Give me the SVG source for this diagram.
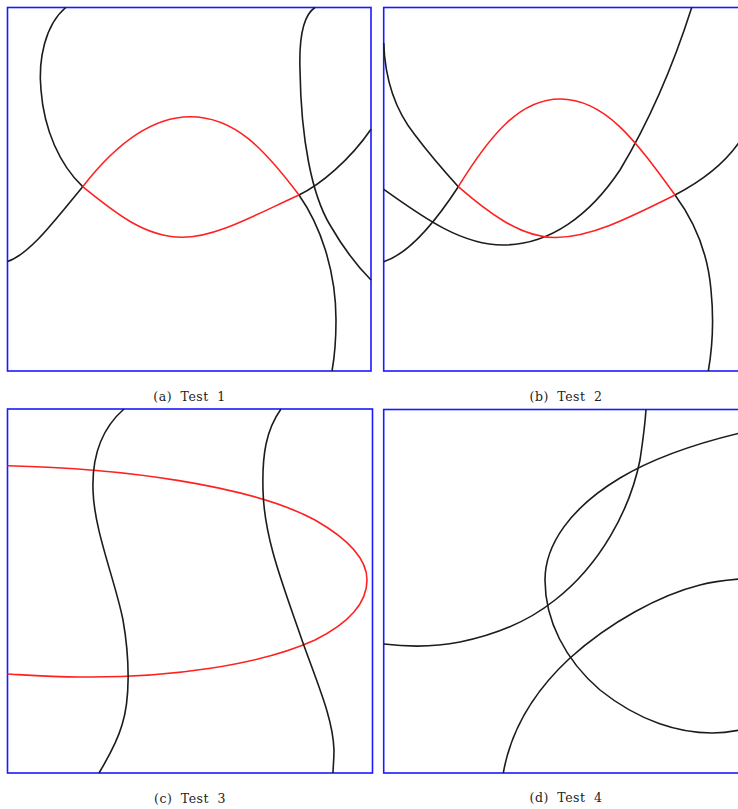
<svg xmlns="http://www.w3.org/2000/svg" width="738" height="809" viewBox="0 0 738 809">
<style>
.frame{fill:none;stroke:#1a1aff;stroke-width:1.6}
.k{fill:none;stroke:#1c1c1c;stroke-width:1.6}
.r{fill:none;stroke:#ff2020;stroke-width:1.6}
.cap{font-family:"DejaVu Serif","Liberation Serif",serif;font-size:12.5px;fill:#222;text-anchor:middle;word-spacing:4px;letter-spacing:0.5px}
</style>
<rect width="738" height="809" fill="#fff"/>
<g id="panel-a">
<rect class="frame" x="7.5" y="7.5" width="363.5" height="363.5"/>
<path class="k" d="M65.7,7.5 C45,25 38,60 41,90 C44,130 60,165 82.7,186.7"/>
<path class="k" d="M299,195 C320,225 336,270 336,320 C336,345 334,360 332,371"/>
<path class="k" d="M7.5,261.5 C30,254 55,220 82.7,186.7"/>
<path class="k" d="M299,195 C320,185 350,160 371,129.3"/>
<path class="k" d="M315,7.5 C302,16 299,40 300,70 C301,140 312,195 330,225 C341,244 357,266 371,280"/>
<path class="r" d="M82.7,186.7 C115,213 145,237 181.7,237.3 C215,237.5 255,215 299,195"/>
<path class="r" d="M82.7,186.7 C115,145 150,117 190,116.7 C235,116.5 265,150 299,195"/>
<text class="cap" x="189.5" y="400.5">(a) Test 1</text>
</g>
<g id="panel-b">
<rect class="frame" x="383.7" y="7.5" width="363.5" height="363.5"/>
<path class="k" d="M383.7,43 C385,80 395,110 415,135 C430,155 445,172 458.3,186.7"/>
<path class="k" d="M675,195 C695,222 708,255 711,290 C714,320 712,350 708.3,371"/>
<path class="k" d="M383.7,261.7 C405,255 430,230 458.3,186.7"/>
<path class="k" d="M675,195 C700,182 725,165 742,138"/>
<path class="k" d="M383.7,189.3 C420,215 460,245 503,245 C550,245 590,215 620,170 C650,120 675,60 691.7,7.5"/>
<path class="r" d="M458.3,186.7 C485,210 520,238 556,237.5 C590,237 625,220 675,195"/>
<path class="r" d="M458.3,186.7 C490,135 520,99 560,99 C605,99 635,140 675,195"/>
<text class="cap" x="566" y="400.5">(b) Test 2</text>
</g>
<g id="panel-c">
<rect class="frame" x="7.5" y="409" width="365" height="364"/>
<path class="r" d="M7.5,465.7 C120,468 250,485 315,520 C350,540 367,560 367,580 C367,605 345,625 315,640 C260,665 170,678 80,677 C50,677 25,675 7.5,674"/>
<path class="k" d="M124,409 C100,430 92,460 93,490 C94,530 115,580 123,620 C130,660 130,700 122,725 C117,742 108,758 99,773"/>
<path class="k" d="M281,409 C266,430 262,455 263,490 C264,540 285,590 303,643 C320,690 333,720 334,750 C334,760 333,768 333,773"/>
<text class="cap" x="190" y="802.5">(c) Test 3</text>
</g>
<g id="panel-d">
<rect class="frame" x="383.7" y="409.5" width="363.5" height="363.5"/>
<path class="k" d="M383.7,644 C400,646 430,648 460,642 C500,634 530,620 555,600 C600,565 630,510 640,460 C643,440 645,425 646,409.5"/>
<path class="k" d="M740,433 C690,445 650,460 620,478 C570,508 545,545 545,580 C545,620 565,660 600,690 C640,722 680,733 712,733 C725,733 735,731 740,730"/>
<path class="k" d="M503.3,773 C510,735 530,695 570,658 C610,622 660,595 700,585 C715,581 728,580 740,579"/>
<text class="cap" x="566" y="801.5">(d) Test 4</text>
</g>
</svg>
